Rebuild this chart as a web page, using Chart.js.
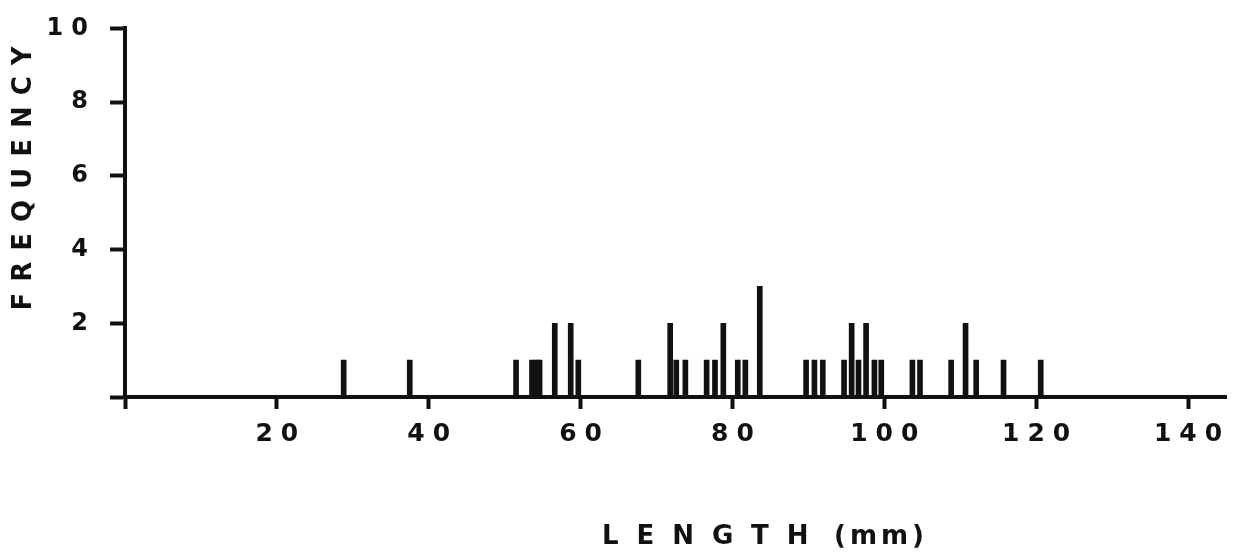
<!DOCTYPE html>
<html>
<head>
<meta charset="utf-8">
<script src="https://cdn.jsdelivr.net/npm/chart.js@4/dist/chart.umd.min.js"></script>
<style>
	html, body { margin: 0; padding: 0; background: #ffffff; }
	canvas { display: block; }
</style>
</head>
<body>
<canvas id="lengthChart" width="1238" height="556"></canvas>
<script>
// Length measurements (mm) and how many specimens had each length
const lengths = [
	28.8, 37.5, 51.5, 53.6, 54.2, 54.6, 56.6, 58.7, 59.7, 67.6,
	71.8, 72.6, 73.8, 76.6, 77.7, 78.8, 80.7, 81.7, 83.6,
	89.7, 90.8, 91.9, 94.7, 95.7, 96.6, 97.6, 98.7, 99.6,
	103.7, 104.7, 108.8, 110.7, 112.1, 115.7, 120.6,
];
const frequency = [
	1, 1, 1, 1, 1, 1, 2, 2, 1, 1,
	2, 1, 1, 1, 1, 2, 1, 1, 3,
	1, 1, 1, 1, 2, 1, 2, 1, 1,
	1, 1, 1, 2, 1, 1, 1,
];

// Axis ticks
const xTicks = [0, 20, 40, 60, 80, 100, 120, 140];
const yTicks = [0, 2, 4, 6, 8, 10];

const ink = "#111111";
const letterFont = "'DejaVu Sans', sans-serif";

// Spaced-out lettering for tick labels, axis titles drawn by hand
const letteringPlugin = {
	id: "lettering",
	beforeDraw(chart) {
		chart.ctx.letterSpacing = "8px";
	},
	afterDraw(chart) {
		const ctx = chart.ctx;
		ctx.save();
		ctx.fillStyle = ink;
		ctx.textBaseline = "middle";
		ctx.font = "bold 26px " + letterFont;

		// x title: spaced word, then the unit set tighter
		ctx.textAlign = "left";
		ctx.letterSpacing = "18px";
		ctx.fillText("LENGTH", 602, 537);
		ctx.letterSpacing = "4px";
		ctx.fillText("(mm)", 834, 537);

		// y title reads bottom to top
		ctx.translate(24, 178);
		ctx.rotate(-Math.PI / 2);
		ctx.textAlign = "center";
		ctx.letterSpacing = "11px";
		ctx.fillText("FREQUENCY", 5, 0);
		ctx.restore();
		ctx.letterSpacing = "0px";
	},
};

document.addEventListener("DOMContentLoaded", function () {
	const ctx = document.getElementById("lengthChart");

	new Chart(ctx, {
		type: "bar",
		data: {
			datasets: [
				{
					data: lengths.map((x, i) => ({ x: x, y: frequency[i] })),
					backgroundColor: ink,
					borderWidth: 0,
					barThickness: 5,
				},
			],
		},
		options: {
			responsive: false,
			animation: false,
			layout: {
				padding: { top: 22, right: 12, left: 0, bottom: 0 },
			},
			plugins: {
				legend: { display: false },
				tooltip: { enabled: false },
			},
			scales: {
				x: {
					type: "linear",
					min: 0,
					max: 145,
					offset: false,
					afterFit: (scale) => {
						scale.height = 159;
					},
					afterBuildTicks: (scale) => {
						scale.ticks = xTicks.map((v) => ({ value: v }));
					},
					border: { display: true, color: ink, width: 4 },
					grid: {
						display: true,
						offset: false,
						drawOnChartArea: false,
						drawTicks: true,
						tickLength: 12,
						tickWidth: 4,
						color: ink,
					},
					ticks: {
						autoSkip: false,
						maxRotation: 0,
						padding: 10,
						labelOffset: 4,
						color: ink,
						font: { size: 25, weight: "bold", family: letterFont },
						callback: (v) => (v === 0 ? "" : String(v)),
					},
				},
				y: {
					min: 0,
					max: 10,
					afterFit: (scale) => {
						scale.width = 125;
					},
					afterBuildTicks: (scale) => {
						scale.ticks = yTicks.map((v) => ({ value: v }));
					},
					border: { display: true, color: ink, width: 4 },
					grid: {
						display: true,
						drawOnChartArea: false,
						drawTicks: true,
						tickLength: 15,
						tickWidth: 4,
						color: ink,
					},
					ticks: {
						padding: 14,
						color: ink,
						font: { size: 24, weight: "bold", family: letterFont },
						callback: (v) => (v === 0 ? "" : String(v)),
					},
				},
			},
		},
		plugins: [letteringPlugin],
	});
});
</script>
</body>
</html>
